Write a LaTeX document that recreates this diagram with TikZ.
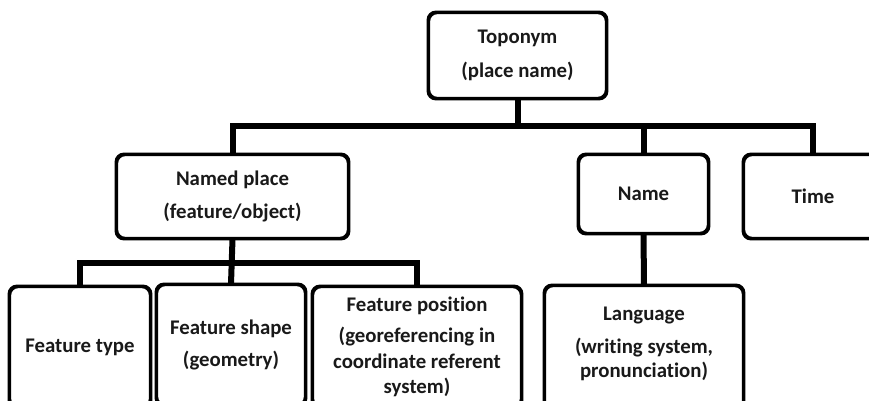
\documentclass[tikz,border=0pt]{standalone}
\usepackage{fontspec}
\setmainfont{Carlito}[Ligatures={NoCommon}]
\begin{document}
\begin{tikzpicture}[x=1pt,y=-1pt,
  box/.style={draw=black,line width=2.4pt,rounded corners=8pt,fill=white,align=center,inner sep=0pt,
     font=\bfseries\fontsize{20.8}{25.5}\selectfont,text=black!90},
  conn/.style={draw=black,line width=6pt,line join=miter}]
\useasboundingbox (0,0) rectangle (869,401);
\clip (0,0) rectangle (869,401);
\fill[white] (0,0) rectangle (869,401);
\coordinate (bar1) at (0,126);
\coordinate (bar2) at (0,263);
\node[box,minimum width=177pt,minimum height=85pt] (top) at (517.5,55.5) {Toponym\\[8pt](place name)};
\node[box,minimum width=231pt,minimum height=83pt] (np) at (232.5,196.5) {Named place\\[7pt](feature/object)};
\node[box,minimum width=129pt,minimum height=78pt] (name) at (643.5,194) {Name};
\node[box,minimum width=138pt,minimum height=83pt] (time) at (813,196.5) {Time};
\node[box,minimum width=140pt,minimum height=120pt] (ft) at (80,347) {Feature type};
\node[box,minimum width=148pt,minimum height=120pt] (fs) at (231,345) {Feature shape\\[6pt](geometry)};
\node[box,minimum width=208pt,minimum height=120pt] (fp) at (417,347) {Feature position\\[6pt](georeferencing in\\coordinate referent\\system)};
\node[box,minimum width=198pt,minimum height=124pt] (lang) at (644,348) {};
\node[font=\bfseries\fontsize{20.8}{24}\selectfont,text=black!90,align=center,inner sep=0pt] (langtxt) at (644,344) {Language\\[9pt](writing system,\\pronunciation)};
\draw[conn] (top.south) -- (top.south |- bar1);
\draw[conn] (np.north) -- (np.north |- bar1) -- (time.north |- bar1) -- (time.north);
\draw[conn] (name.north) -- (name.north |- bar1);
\draw[conn] (np.south) -- (fs.north);
\draw[conn] (ft.north) -- (ft.north |- bar2) -- (fp.north |- bar2) -- (fp.north);
\draw[conn] (name.south) -- (lang.north);
\foreach \n in {top,np,name,time,ft,fs,fp,lang}{
  \draw[line width=2.4pt,rounded corners=8pt] (\n.north west) rectangle (\n.south east);
}
\end{tikzpicture}
\end{document}
